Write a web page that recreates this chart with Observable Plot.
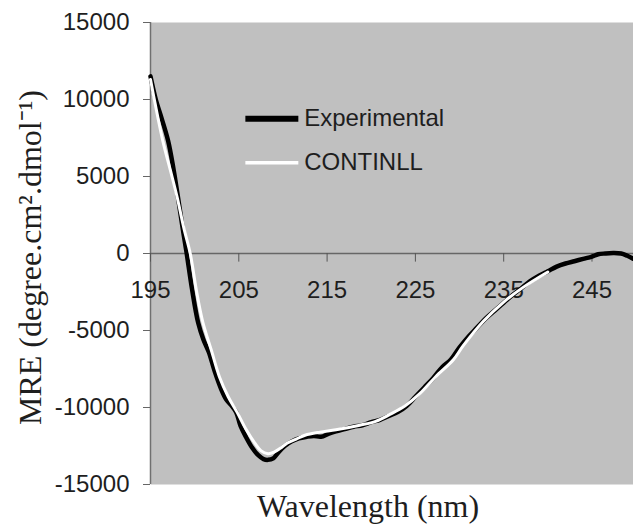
<!DOCTYPE html>
<html>
<head>
<meta charset="utf-8">
<script src="https://cdn.jsdelivr.net/npm/d3@7"></script>
<script src="https://cdn.jsdelivr.net/npm/@observablehq/plot@0.6"></script>
<style>
  html, body { margin: 0; padding: 0; background: #fff; }
  #chart svg { display: block; }
</style>
</head>
<body>
<div id="chart"></div>
<script>
// Experimental CD spectrum (wavelength nm, MRE)
const expWl = [195.0,195.6,196.3,197.0,197.6,198.1,198.6,199.1,199.7,200.4,201.0,201.6,202.3,203.0,203.6,204.2,204.7,205.2,205.8,206.5,207.2,207.8,208.3,208.9,209.5,210.2,211.0,211.8,212.7,213.5,214.3,215.2,216.0,217.0,218.0,219.0,220.0,221.0,222.0,223.0,224.0,225.0,226.0,227.0,228.0,229.0,230.0,231.0,232.0,233.0,234.0,235.0,236.0,237.0,238.0,239.0,240.0,241.0,242.0,243.0,244.0,245.0,245.7,246.5,247.4,248.3,249.0,249.7];
const expMRE = [11500,10000,8700,7300,5500,3700,1800,0,-2300,-4500,-5600,-6400,-7700,-8800,-9500,-9900,-10300,-11200,-11900,-12600,-13100,-13350,-13400,-13300,-12900,-12500,-12200,-12000,-11900,-11850,-11900,-11700,-11550,-11400,-11250,-11150,-10950,-10800,-10550,-10300,-9900,-9300,-8700,-8100,-7400,-6900,-6100,-5400,-4800,-4200,-3700,-3200,-2700,-2250,-1800,-1450,-1150,-850,-650,-500,-350,-200,-50,0,30,0,-150,-350];

// CONTINLL fit
const fitWl = [195.0,195.5,196.4,197.3,198.0,198.8,199.5,200.2,200.9,201.9,202.8,203.8,204.8,205.8,206.8,207.5,208.3,209.0,209.7,210.5,211.5,212.5,214.2,216.0,218.7,220.5,222.1,223.8,225.5,227.3,229.3,230.4,232.7,234.9,237.2,240.0];
const fitMRE = [11300,9800,7300,5300,3700,1600,0,-2400,-4400,-6300,-8000,-9300,-10300,-11400,-12300,-12800,-13000,-12900,-12650,-12300,-12050,-11800,-11600,-11450,-11150,-10900,-10450,-9900,-9100,-8000,-6900,-6000,-4400,-3200,-2200,-1200];

const xTicks = [195, 205, 215, 225, 235, 245];
const yTicks = [-15000, -10000, -5000, 0, 5000, 10000, 15000];
const seriesNames = ["Experimental", "CONTINLL"];
const yTitle = "MRE (degree.cm\u00B2.dmol\u207B\u00B9)";
const xTitle = "Wavelength (nm)";

const expData = expWl.map((w, i) => ({w, v: expMRE[i]}));
const fitData = fitWl.map((w, i) => ({w, v: fitMRE[i]}));

// legend layout (in data units of the chart)
const legendX1 = 205.8, legendX2 = 211.8, legendTextX = 212.4;
const legendY = [8750, 5900];
const legend = seriesNames.map((name, i) => ({name, y: legendY[i]}));

const sans = "'Liberation Sans', Arial, Helvetica, sans-serif";
const serif = "'Liberation Serif', 'Times New Roman', Times, serif";

const chart = Plot.plot({
  width: 633,
  height: 528,
  marginLeft: 150,
  marginRight: 0,
  marginTop: 22,
  marginBottom: 44,
  style: {background: "#fff", color: "#1e1e1e", fontFamily: sans},
  x: {domain: [195, 249.7], axis: null},
  y: {domain: [-15000, 15000], axis: null},
  marks: [
    Plot.frame({fill: "#c0c0c0", stroke: null}),
    Plot.ruleX([195], {stroke: "#707070", strokeWidth: 1.5}),
    Plot.ruleY([0], {stroke: "#666", strokeWidth: 1.5}),
    Plot.axisY({ticks: yTicks, tickSize: 7, tickPadding: 14, fontSize: 24, tickFormat: d => String(d), label: null, stroke: "#666"}),
    Plot.ruleX(xTicks, {x: d => d, y1: 0, y2: -560, stroke: "#555", strokeWidth: 1}),
    Plot.text(xTicks, {x: d => d, y: 0, dy: 37, text: d => String(d), fontSize: 24, fill: "#1e1e1e"}),
    Plot.line(expData, {x: "w", y: "v", stroke: "#000", strokeWidth: 4.5, curve: "catmull-rom"}),
    Plot.line(fitData, {x: "w", y: "v", stroke: "#fff", strokeWidth: 3, curve: "catmull-rom"}),
    Plot.ruleY(legend, {y: "y", x1: legendX1, x2: legendX2, stroke: (d, i) => i === 0 ? "#000" : "#fff", strokeWidth: (d, i) => i === 0 ? 6 : 3.5}),
    Plot.text(legend, {x: legendTextX, y: "y", text: "name", textAnchor: "start", fontSize: 24, fill: "#1e1e1e"}),
    Plot.text([yTitle], {frameAnchor: "left", textAnchor: "middle", lineAnchor: "middle", dx: -120, dy: 4, rotate: -90, fontSize: 32, fontFamily: serif, fill: "#1e1e1e"}),
    Plot.text([xTitle], {frameAnchor: "bottom", textAnchor: "middle", lineAnchor: "middle", dx: -24, dy: 22, fontSize: 32, fontFamily: serif, fill: "#1e1e1e"})
  ]
});
document.getElementById("chart").appendChild(chart);
</script>
</body>
</html>
